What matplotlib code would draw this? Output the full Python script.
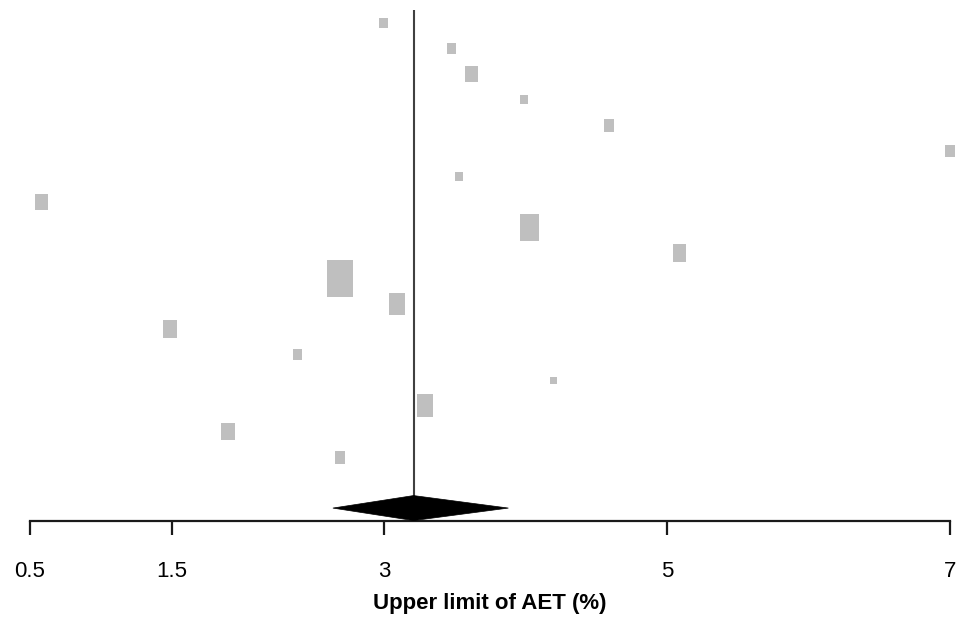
import matplotlib
matplotlib.use("Agg")
import matplotlib.pyplot as plt
from matplotlib.patches import Rectangle, Polygon
import numpy as np

plt.rcParams['font.family'] = ['Liberation Sans', 'DejaVu Sans']

# Study estimates (upper limit of AET, %) and relative weights (%)
estimates = [3.00, 3.48, 3.62, 3.99, 4.59, 7.00, 3.53, 0.58, 4.03, 5.09,
             2.69, 3.09, 1.49, 2.39, 4.20, 3.29, 1.90, 2.69]
weights = [2.1, 2.1, 4.5, 1.4, 3.0, 2.6, 1.4, 4.5, 12.9, 5.7,
           24.3, 8.6, 5.7, 2.1, 0.6, 9.4, 5.7, 3.0]
pooled = 3.21
pooled_lo = 2.64
pooled_hi = 3.88
xticks = [0.5, 1.5, 3, 5, 7]
xtick_labels = ["0.5", "1.5", "3", "5", "7"]
xlabel = "Upper limit of AET (%)"

W, H = 966, 617
fig = plt.figure(figsize=(W / 100, H / 100), dpi=100)
ax_left, ax_right, ax_top, ax_bot = 30, 950, 0, 521
ax = fig.add_axes([ax_left / W, (H - ax_bot) / H, (ax_right - ax_left) / W, (ax_bot - ax_top) / H])

n = len(estimates)
row_px = 25.53
first_px = 23
xmin, xmax = 0.5, 7.0
px_per_x = (ax_right - ax_left) / (xmax - xmin)
ytop = 1 - first_px / row_px
ybot = 1 + (ax_bot - first_px) / row_px
ax.set_xlim(xmin, xmax)
ax.set_ylim(ybot, ytop)

grey = "#bfbfbf"
wmax = max(weights)
hmax_px = 37
for i, (e, w) in enumerate(zip(estimates, weights)):
    y = i + 1
    h_px = max(hmax_px * np.sqrt(w / wmax), 6.5)
    w_px = 2.5 + 0.62 * h_px
    hh = h_px / row_px
    ww = w_px / px_per_x
    ax.add_patch(Rectangle((e - ww / 2, y - hh / 2), ww, hh, facecolor=grey,
                           edgecolor="none", zorder=2, clip_on=False))

# pooled diamond
yd = n + 2
dh = 12.5 / row_px
ax.add_patch(Polygon([[pooled_lo, yd], [pooled, yd - dh], [pooled_hi, yd], [pooled, yd + dh]],
                     closed=True, facecolor="black", edgecolor="black", lw=0.5, zorder=4))

# vertical line at pooled
ax.plot([pooled, pooled], [1 - 13 / row_px, yd], color="#404040", lw=1.5, zorder=3,
        solid_capstyle="butt")

for s in ["top", "left", "right"]:
    ax.spines[s].set_visible(False)
ax.spines["bottom"].set_linewidth(1.6)
ax.spines["bottom"].set_color("#1a1a1a")
ax.set_yticks([])
ax.set_xticks(xticks)
ax.set_xticklabels(xtick_labels, fontsize=16)
ax.tick_params(axis="x", direction="out", length=10, width=1.6, color="#1a1a1a", pad=19)
ax.set_xlabel(xlabel, fontsize=16, fontweight="bold", labelpad=8)

fig.savefig("out.png", dpi=100)
